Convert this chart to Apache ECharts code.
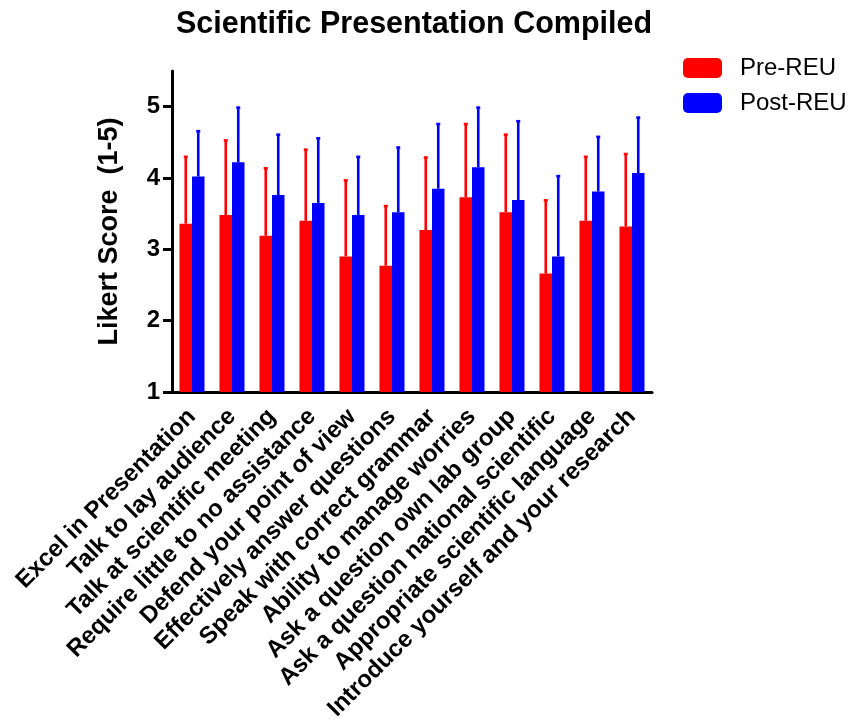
<!DOCTYPE html>
<html>
<head>
<meta charset="utf-8">
<script src="https://cdn.jsdelivr.net/npm/echarts@6/dist/echarts.min.js"></script>
<style>
  html, body { margin: 0; padding: 0; background: #fff; }
  #chart { width: 852px; height: 724px; }
</style>
</head>
<body>
<div id="chart"></div>
<script>
// 问卷项目
const categories = [
  'Excel in Presentation',
  'Talk to lay audience',
  'Talk at scientific meeting',
  'Require little to no assistance',
  'Defend your point of view',
  'Effectively answer questions',
  'Speak with correct grammar',
  'Ability to manage worries',
  'Ask a question own lab group',
  'Ask a question national scientific',
  'Appropriate scientific language',
  'Introduce yourself and your research'
]

// 均值
const preMean = [3.36, 3.48, 3.19, 3.40, 2.90, 2.77, 3.27, 3.73, 3.52, 2.66, 3.40, 3.32]
const postMean = [4.02, 4.22, 3.76, 3.65, 3.48, 3.52, 3.85, 4.15, 3.69, 2.90, 3.81, 4.07]

// 误差线顶端
const preUpper = [4.31, 4.54, 4.15, 4.41, 3.98, 3.62, 4.30, 4.77, 4.62, 3.70, 4.31, 4.35]
const postUpper = [4.67, 5.00, 4.62, 4.57, 4.31, 4.44, 4.77, 5.00, 4.81, 4.04, 4.59, 4.86]

const yTicks = [1, 2, 3, 4, 5]

const FONT = 'Arial, "Liberation Sans", sans-serif'
const BAR_W = 12.5

// 误差线（只画向上的一半）
const errorSeries = (name, means, uppers, color, side) => ({
  name: name,
  type: 'custom',
  z: 5,
  data: means.map((m, i) => [i, m, uppers[i]]),
  renderItem: function (params, api) {
    const idx = api.value(0)
    const base = api.coord([idx, api.value(1)])
    const top = api.coord([idx, api.value(2)])
    const x = base[0] + side * BAR_W / 2
    return {
      type: 'group',
      children: [
        {
          type: 'line',
          shape: { x1: x, y1: base[1], x2: x, y2: top[1] },
          style: { stroke: color, lineWidth: 2.6 }
        },
        {
          type: 'line',
          shape: { x1: x - 2, y1: top[1] + 1, x2: x + 2, y2: top[1] + 1 },
          style: { stroke: color, lineWidth: 2.6 }
        }
      ]
    }
  }
})

const chart = echarts.init(document.getElementById('chart'))

const option = {
  backgroundColor: '#fff',
  animation: false,
  title: {
    text: 'Scientific Presentation Compiled',
    left: 409,
    textAlign: 'center',
    top: 4,
    textStyle: { fontFamily: FONT, fontSize: 30.5, fontWeight: 'bold', color: '#000' }
  },
  legend: {
    orient: 'vertical',
    left: 683,
    top: 56,
    padding: 0,
    itemWidth: 39,
    itemHeight: 20,
    itemGap: 11,
    icon: 'roundRect',
    data: ['Pre-REU', 'Post-REU'],
    textStyle: { fontFamily: FONT, fontSize: 24, color: '#000', padding: [0, 0, 0, 13] }
  },
  grid: { left: 172, right: 200, top: 71, bottom: 332, containLabel: false },
  xAxis: {
    type: 'category',
    data: categories,
    axisLine: { lineStyle: { color: '#000', width: 3 } },
    axisTick: { alignWithLabel: true, length: 8, lineStyle: { color: '#000', width: 3 } },
    axisLabel: {
      rotate: 45,
      interval: 0,
      margin: 21,
      fontFamily: FONT,
      fontSize: 24,
      fontWeight: 'bold',
      color: '#000'
    }
  },
  yAxis: {
    type: 'value',
    min: 1,
    max: 5.5,
    interval: 1,
    name: 'Likert Score  (1-5)',
    nameLocation: 'middle',
    nameRotate: 90,
    nameGap: 49,
    nameTextStyle: { fontFamily: FONT, fontSize: 27, fontWeight: 'bold', color: '#000' },
    splitLine: { show: false },
    axisLine: { show: true, lineStyle: { color: '#000', width: 3 } },
    axisTick: { show: true, length: 9, customValues: yTicks, lineStyle: { color: '#000', width: 3 } },
    axisLabel: {
      customValues: yTicks,
      margin: 12,
      fontFamily: FONT,
      fontSize: 24,
      fontWeight: 'bold',
      color: '#000'
    }
  },
  series: [
    {
      name: 'Pre-REU',
      type: 'bar',
      data: preMean,
      barWidth: BAR_W,
      barGap: '0%',
      itemStyle: { color: '#ff0000' }
    },
    {
      name: 'Post-REU',
      type: 'bar',
      data: postMean,
      barWidth: BAR_W,
      barGap: '0%',
      itemStyle: { color: '#0000ff' }
    },
    errorSeries('Pre-REU err', preMean, preUpper, '#ff0000', -1),
    errorSeries('Post-REU err', postMean, postUpper, '#0000ff', 1)
  ]
}

chart.setOption(option)
</script>
</body>
</html>
